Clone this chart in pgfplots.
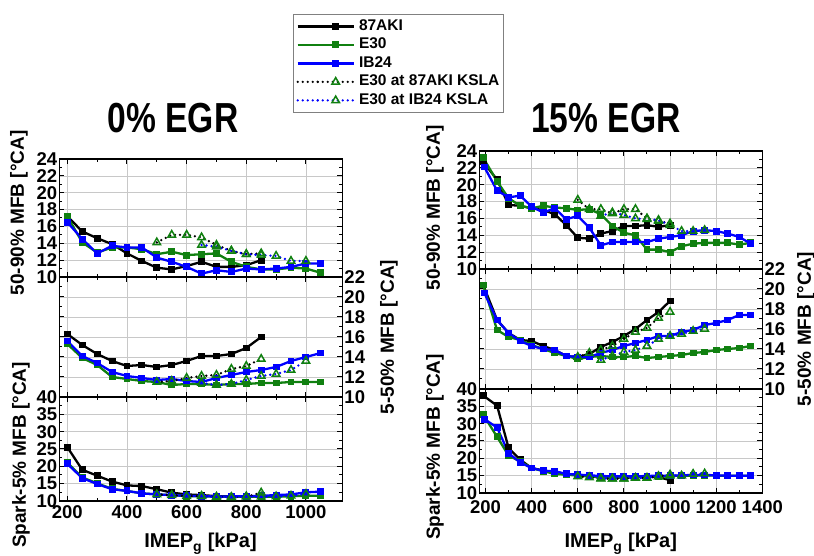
\documentclass[border=0pt]{standalone}
\usepackage{fontspec}
\setmainfont{Liberation Sans}
\usepackage{graphicx}
\usepackage{pgfplots}
\pgfplotsset{compat=1.18}
\definecolor{egreen}{RGB}{16,128,16}
\definecolor{gridgray}{RGB}{200,200,200}
\pgfplotsset{
  panel/.style={scale only axis, width=283pt,
    axis line style={line width=1.2pt},
    grid=major, major grid style={gridgray, line width=0.6pt},
    tick align=inside, major tick length=5pt, minor tick length=3pt,
    tick style={black, line width=1pt},
    minor x tick num=1, minor y tick num=1,
    tick label style={font=\fontsize{18.5}{18.5}\selectfont\bfseries, inner sep=2pt},
    /pgf/number format/assume math mode=true,
    /pgf/number format/1000 sep={},
    scaled ticks=false,
    yticklabel={\textbf{\pgfmathprintnumber{\tick}}}},
  showx/.style={xticklabel={\textbf{\pgfmathprintnumber{\tick}}}},
  leftp/.style={panel, xmin=173, xmax=1122, xtick={200,400,...,1000}, xticklabel style={yshift=-2.5pt}},
  rightp/.style={panel, xmin=173, xmax=1400, xtick={200,400,...,1400}, xticklabel style={yshift=-5pt}},
  topp/.style={height=118pt, ymin=10, ymax=24, ytick={10,12,...,24}, xticklabels={}},
  midp/.style={height=120pt, ymin=10, ymax=22, ytick={10,12,...,22}, xticklabels={}, yticklabel pos=right, ytick pos=both},
  botp/.style={height=104pt, ymin=10, ymax=40, ytick={10,15,...,40}, showx},
  s87/.style={black, line width=2.3pt, mark=square*, mark size=2.3pt, mark options={solid}},
  se30/.style={egreen, line width=2.3pt, mark=square*, mark size=2.3pt, mark options={solid}},
  sib/.style={blue, line width=2.3pt, mark=square*, mark size=2.3pt, mark options={solid}},
  k87/.style={black, line width=2.6pt, line cap=round, dash pattern=on 0pt off 5pt, mark=triangle, mark size=4.3pt, mark options={solid, draw=egreen, fill=white, line width=1.5pt}},
  kib/.style={blue, line width=2.6pt, line cap=round, dash pattern=on 0pt off 5pt, mark=triangle, mark size=4.3pt, mark options={solid, draw=egreen, fill=white, line width=1.5pt}},
  legend image code/.code={
    \path (-20pt,0pt) -- (0pt,0pt);
    \draw[mark repeat=2,mark phase=2,#1] plot coordinates {(0pt,0pt) (18pt,0pt) (36pt,0pt)};
  },
}
\tikzset{lab/.style={rotate=90, inner sep=0pt, font=\fontsize{19}{19}\selectfont\bfseries}}
\begin{document}
\begin{tikzpicture}[x=1pt,y=1pt]
\path[use as bounding box] (0,0) rectangle (814,556);

% ---------------- 0% EGR: 50-90% ----------------
\begin{axis}[leftp, topp, at={(59.3pt,279pt)}, anchor=south west,
  legend cell align=left,
  legend style={at={(axis description cs:0.8258,2.2288)}, anchor=north west,
    draw=gray, line width=0.8pt, fill=white, inner xsep=3pt, inner ysep=4pt,
    row sep=2.5pt, column sep=3pt,
    nodes={inner sep=1pt, text height=11pt, text depth=3pt},
    font=\fontsize{15.5}{15.5}\selectfont\bfseries}]
\addplot[s87] coordinates {(200,17.2)(250,15.4)(300,14.6)(350,13.9)(400,12.8)(450,11.9)(500,11.1)(550,10.9)(600,11.3)(650,11.8)(700,11.2)(750,11.2)(800,11.4)(850,12.0)};
\addlegendentry{87AKI}
\addplot[se30] coordinates {(200,17.2)(250,14.1)(300,12.9)(350,13.5)(400,13.5)(450,13.3)(500,12.7)(550,13.0)(600,12.6)(650,12.7)(700,12.8)(750,11.8)(800,11.2)(850,10.9)(900,10.9)(950,11.1)(1000,11.0)(1050,10.5)};
\addlegendentry{E30}
\addplot[sib] coordinates {(200,16.5)(250,14.5)(300,12.8)(350,13.7)(400,13.5)(450,13.5)(500,12.3)(550,11.8)(600,11.2)(650,10.4)(700,10.8)(750,10.6)(800,11.0)(850,10.9)(900,11.0)(950,11.2)(1000,11.6)(1050,11.6)};
\addlegendentry{IB24}
\addplot[k87] coordinates {(500,14.1)(550,15.0)(600,15.0)(650,14.7)(700,13.8)(750,13.1)(800,12.7)(850,12.8)};
\addlegendentry{E30 at 87AKI KSLA}
\addplot[kib] coordinates {(650,13.8)(700,13.6)(750,13.1)(800,12.7)(850,12.6)(900,12.5)(950,11.9)(1000,11.9)};
\addlegendentry{E30 at IB24 KSLA}
\end{axis}

% ---------------- 0% EGR: 5-50% ----------------
\begin{axis}[leftp, midp, at={(59.3pt,159pt)}, anchor=south west]
\addplot[s87] coordinates {(200,16.3)(250,15.2)(300,14.3)(350,13.6)(400,13.1)(450,13.2)(500,13.0)(550,13.2)(600,13.6)(650,14.1)(700,14.1)(750,14.3)(800,14.9)(850,16.0)};
\addplot[se30] coordinates {(200,15.3)(250,13.9)(300,13.2)(350,12.0)(400,11.8)(450,11.6)(500,11.5)(550,11.2)(600,11.3)(650,11.3)(700,11.2)(750,11.3)(800,11.3)(850,11.4)(900,11.4)(950,11.5)(1000,11.5)(1050,11.5)};
\addplot[sib] coordinates {(200,15.6)(250,14.1)(300,13.4)(350,12.5)(400,12.1)(450,11.9)(500,11.7)(550,11.8)(600,11.6)(650,11.5)(700,11.9)(750,12.2)(800,12.5)(850,12.7)(900,13.0)(950,13.6)(1000,14.0)(1050,14.4)};
\addplot[k87] coordinates {(500,11.5)(550,11.6)(600,11.9)(650,12.1)(700,12.2)(750,12.8)(800,13.1)(850,13.8)};
\addplot[kib] coordinates {(650,11.4)(700,11.2)(750,11.3)(800,11.7)(850,12.1)(900,12.3)(950,12.7)(1000,13.6)};
\end{axis}

% ---------------- 0% EGR: Spark-5% ----------------
\begin{axis}[leftp, botp, at={(59.3pt,55pt)}, anchor=south west]
\addplot[s87] coordinates {(200,25.5)(250,19.0)(300,17.3)(350,15.6)(400,14.5)(450,14.3)(500,13.4)(550,12.4)(600,11.9)(650,11.7)(700,11.4)(750,11.3)(800,11.3)(850,11.4)};
\addplot[se30] coordinates {(200,21.1)(250,16.8)(300,15.1)(350,13.5)(400,12.9)(450,12.2)(500,11.9)(550,11.7)(600,11.4)(650,11.4)(700,11.2)(750,11.2)(800,11.2)(850,11.2)(900,11.2)(950,11.4)(1000,11.5)(1050,11.5)};
\addplot[sib] coordinates {(200,20.7)(250,16.6)(300,14.9)(350,13.4)(400,12.9)(450,12.2)(500,11.9)(550,11.7)(600,11.5)(650,11.4)(700,11.3)(750,11.3)(800,11.4)(850,11.5)(900,11.7)(950,11.9)(1000,12.5)(1050,12.7)};
\addplot[k87] coordinates {(500,11.9)(550,11.7)(600,11.4)(650,11.4)(700,11.2)(750,11.1)(800,11.2)(850,12.4)};
\addplot[kib] coordinates {(650,11.4)(700,11.1)(750,11.1)(800,11.3)(850,11.2)(900,11.3)(950,11.5)(1000,12.0)};
\end{axis}

% ---------------- 15% EGR: 50-90% ----------------
\begin{axis}[rightp, topp, at={(479.3pt,287pt)}, anchor=south west]
\addplot[s87] coordinates {(190,22.7)(250,20.6)(300,17.6)(350,17.5)(400,17.2)(450,17.0)(500,16.5)(550,15.2)(600,13.7)(650,13.6)(700,14.2)(750,14.5)(800,15.1)(850,15.1)(900,15.2)(950,15.0)(1000,15.2)};
\addplot[se30] coordinates {(190,23.2)(250,20.4)(300,18.4)(350,17.5)(400,17.2)(450,17.5)(500,17.3)(550,17.2)(600,17.0)(650,17.1)(700,16.5)(750,15.1)(800,14.3)(850,14.0)(900,12.3)(950,12.3)(1000,12.0)(1050,12.7)(1100,13.0)(1150,13.1)(1200,13.1)(1250,13.1)(1300,12.9)(1350,13.1)};
\addplot[sib] coordinates {(195,22.1)(250,19.3)(300,18.5)(350,18.7)(400,17.4)(450,16.7)(500,17.2)(550,15.9)(600,16.3)(650,14.9)(700,12.8)(750,13.2)(800,13.2)(850,13.2)(900,13.2)(950,13.6)(1000,13.8)(1050,14.0)(1100,14.5)(1150,14.6)(1200,14.5)(1250,14.2)(1300,13.8)(1350,13.0)};
\addplot[k87] coordinates {(600,18.2)(650,17.1)(700,17.1)(750,16.6)(800,17.1)(850,17.1)(900,16.0)(950,15.7)(1000,15.4)};
\addplot[kib] coordinates {(700,16.3)(750,16.7)(800,16.4)(850,16.0)(900,15.9)(950,15.8)(1000,15.2)(1050,14.5)(1100,14.5)(1150,14.6)};
\end{axis}

% ---------------- 15% EGR: 5-50% ----------------
\begin{axis}[rightp, midp, at={(479.3pt,167pt)}, anchor=south west]
\addplot[s87] coordinates {(190,20.4)(250,16.9)(300,15.6)(350,14.9)(400,14.8)(450,14.3)(500,13.9)(550,13.3)(600,13.2)(650,13.5)(700,14.2)(750,14.7)(800,15.3)(850,16.0)(900,16.9)(950,17.7)(1000,18.8)};
\addplot[se30] coordinates {(190,20.4)(250,15.9)(300,15.2)(350,14.9)(400,14.4)(450,14.0)(500,13.6)(550,13.3)(600,13.0)(650,13.2)(700,13.3)(750,13.2)(800,13.2)(850,13.3)(900,13.1)(950,13.2)(1000,13.3)(1050,13.4)(1100,13.6)(1150,13.7)(1200,13.9)(1250,14.0)(1300,14.1)(1350,14.3)};
\addplot[sib] coordinates {(195,19.6)(250,16.9)(300,15.6)(350,14.8)(400,14.3)(450,14.0)(500,13.9)(550,13.3)(600,13.2)(650,13.2)(700,13.6)(750,13.9)(800,14.3)(850,14.6)(900,14.9)(950,15.3)(1000,15.3)(1050,15.7)(1100,15.9)(1150,16.4)(1200,16.6)(1250,16.9)(1300,17.4)(1350,17.4)};
\addplot[k87] coordinates {(600,13.2)(650,13.6)(700,13.9)(750,14.3)(800,15.0)(850,15.7)(900,16.1)(950,17.1)(1000,17.7)};
\addplot[kib] coordinates {(700,12.9)(750,13.3)(800,13.7)(850,13.9)(900,14.3)(950,15.0)(1000,15.3)(1050,15.5)(1100,15.8)(1150,16.0)};
\end{axis}

% ---------------- 15% EGR: Spark-5% ----------------
\begin{axis}[rightp, botp, at={(479.3pt,63pt)}, anchor=south west]
\addplot[s87] coordinates {(190,38.1)(250,35.2)(300,23.0)(350,19.6)(400,17.2)(450,16.5)(500,16.0)(550,15.5)(600,15.1)(650,14.8)(700,14.5)(750,14.5)(800,14.5)(850,14.5)(900,14.8)(950,14.6)(1000,13.7)};
\addplot[se30] coordinates {(190,32.6)(250,26.2)(300,20.8)(350,19.1)(400,17.2)(450,16.3)(500,15.5)(550,15.3)(600,15.0)(650,14.8)(700,14.6)(750,14.5)(800,14.5)(850,14.6)(900,14.7)(950,14.8)(1000,14.9)(1050,15.0)(1100,15.0)(1150,15.1)(1200,15.0)(1250,15.0)(1300,15.0)(1350,15.0)};
\addplot[sib] coordinates {(195,31.3)(250,28.9)(300,21.5)(350,18.8)(400,17.2)(450,16.4)(500,16.3)(550,15.5)(600,15.3)(650,15.1)(700,14.9)(750,14.8)(800,14.8)(850,14.8)(900,14.9)(950,15.0)(1000,15.0)(1050,15.1)(1100,15.2)(1150,15.2)(1200,15.1)(1250,15.0)(1300,15.0)(1350,15.0)};
\addplot[k87] coordinates {(600,14.8)(650,14.5)(700,14.1)(750,14.1)(800,14.1)(850,14.3)(900,14.3)(950,14.8)(1000,15.3)};
\addplot[kib] coordinates {(700,14.2)(750,14.1)(800,14.1)(850,14.3)(900,14.3)(950,14.8)(1000,15.0)(1050,15.0)(1100,15.5)(1150,15.6)};
\end{axis}

% ---------------- titles and labels ----------------
\node at (173pt,438pt) {\scalebox{0.8}[1]{\fontsize{42}{42}\selectfont\bfseries 0\% EGR}};
\node at (606pt,438pt) {\scalebox{0.8}[1]{\fontsize{42}{42}\selectfont\bfseries 15\% EGR}};
\node[lab] at (19pt,343pt) {50-90\% MFB [°CA]};
\node[lab] at (21pt,101pt) {Spark-5\% MFB [°CA]};
\node[lab] at (389pt,219pt) {5-50\% MFB [°CA]};
\node[lab] at (435pt,348pt) {50-90\% MFB [°CA]};
\node[lab] at (435pt,109pt) {Spark-5\% MFB [°CA]};
\node[lab] at (806pt,227pt) {5-50\% MFB [°CA]};
\node[anchor=base, font=\fontsize{20}{20}\selectfont\bfseries] at (200.5pt,8pt) {IMEP\textsubscript{g} [kPa]};
\node[anchor=base, font=\fontsize{20}{20}\selectfont\bfseries] at (620.8pt,8pt) {IMEP\textsubscript{g} [kPa]};
\end{tikzpicture}
\end{document}
